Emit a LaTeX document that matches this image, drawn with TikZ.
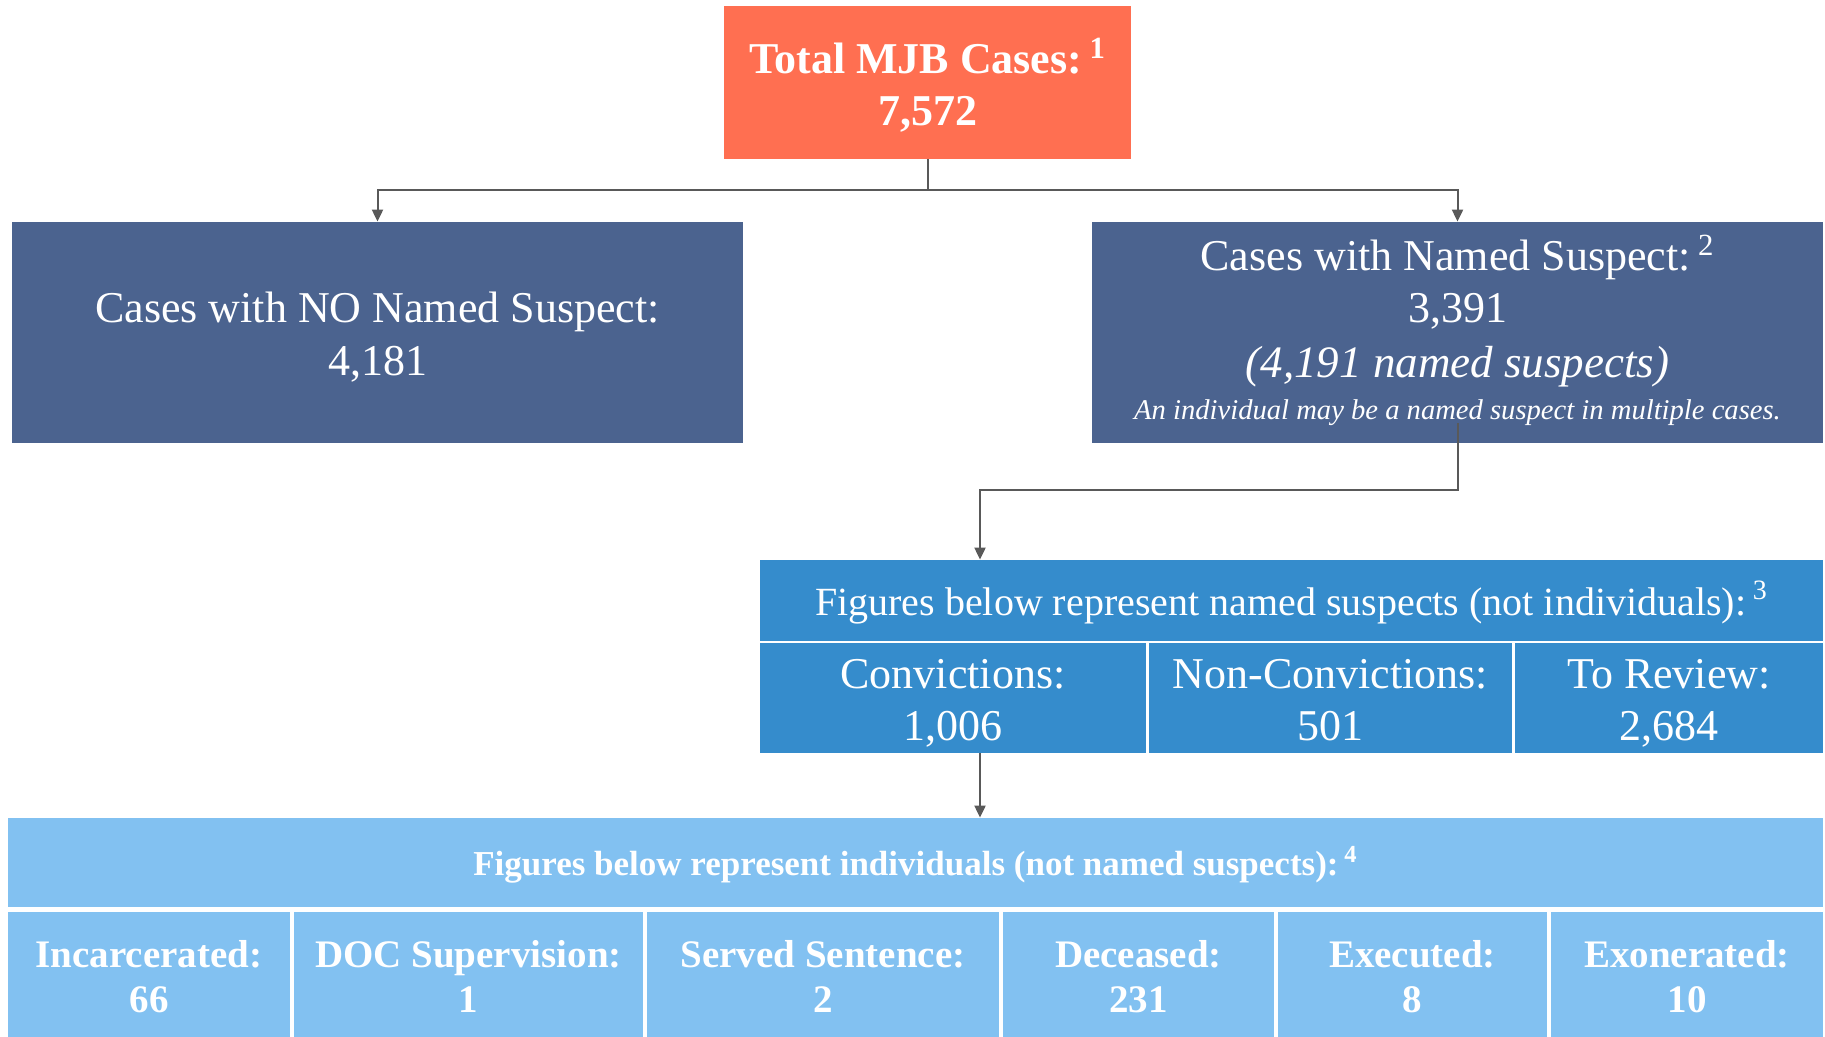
\documentclass[tikz,border=0pt]{standalone}
\usepackage{fontspec}
\setmainfont{Liberation Serif}
\usetikzlibrary{arrows.meta}
\definecolor{coral}{RGB}{255,111,81}
\definecolor{navy}{RGB}{75,99,143}
\definecolor{midblue}{RGB}{53,140,204}
\definecolor{lightblue}{RGB}{130,193,241}
\definecolor{conn}{RGB}{89,89,89}
\tikzset{
  box/.style={rectangle, inner sep=0pt},
  topbox/.style={box, fill=coral},
  navybox/.style={box, fill=navy},
  midbox/.style={box, fill=midblue},
  lightbox/.style={box, fill=lightblue},
  lbl/.style={inner sep=0pt, text=white, anchor=base},
  bigbold/.style={lbl, font=\fontsize{22}{26}\selectfont\bfseries},
  big/.style={lbl, font=\fontsize{22}{26}\selectfont},
  bigit/.style={lbl, font=\fontsize{22.5}{26}\selectfont\itshape},
  smallit/.style={lbl, font=\fontsize{14.3}{16}\selectfont\itshape},
  midhd/.style={lbl, font=\fontsize{20}{24}\selectfont},
  lighthd/.style={lbl, font=\fontsize{17.5}{21}\selectfont\bfseries},
  cellbold/.style={lbl, font=\fontsize{19.5}{23}\selectfont\bfseries},
  arr/.style={draw=conn, line width=1pt, -{Triangle[length=6pt,width=5.5pt]}},
}
\newcommand{\supnum}[1]{\,\textsuperscript{#1}}
\begin{document}
\begin{tikzpicture}[x=0.5pt,y=-0.5pt]
\useasboundingbox (0,0) rectangle (1825,1037);
% top
\node[topbox, minimum width=203.5pt, minimum height=76.5pt] (top) at (927.5,82.5) {};
\node[bigbold] (t1) at (927.5,74) {Total MJB Cases:\supnum{1}};
\node[bigbold] (t2) at (927.5,126) {7,572};
% second level
\node[navybox, minimum width=365.5pt, minimum height=110.5pt] (left) at (377.5,332.5) {};
\node[big] (l1) at (377.5,323) {Cases with NO Named Suspect:};
\node[big] (l2) at (377.5,376) {4,181};
\node[navybox, minimum width=365.5pt, minimum height=110.5pt] (right) at (1457.5,332.5) {};
\node[big] (rt1) at (1457.5,271) {Cases with Named Suspect:\supnum{2}};
\node[big] (rt2) at (1457.5,323) {3,391};
\node[bigit] (rt3) at (1457.5,378) {(4,191 named suspects)};
\node[smallit] (rt4) at (1457.5,420) {An individual may be a named suspect in multiple cases.};
% third level
\node[midbox, minimum width=531.5pt, minimum height=40.5pt] (midh) at (1291.5,600.5) {};
\node[midhd] (mh) at (1291.5,615) {Figures below represent named suspects (not individuals):\supnum{3}};
\node[midbox, minimum width=193pt, minimum height=55pt] (conv) at (953,698) {};
\node[midbox, minimum width=181.5pt, minimum height=55pt] (nonconv) at (1330.5,698) {};
\node[midbox, minimum width=154pt, minimum height=55pt] (review) at (1669,698) {};
\node[big] (c1) at (953,688) {Convictions:};
\node[big] (c2) at (953,740) {1,006};
\node[big] (n1) at (1330.5,688) {Non-Convictions:};
\node[big] (n2) at (1330.5,740) {501};
\node[big] (v1) at (1669,688) {To Review:};
\node[big] (v2) at (1669,740) {2,684};
% bottom level
\node[lightbox, minimum width=907.5pt, minimum height=44.5pt] (both) at (915.5,862.5) {};
\node[lighthd] (bh) at (915.5,875) {Figures below represent individuals (not named suspects):\supnum{4}};
\node[lightbox, minimum width=141pt, minimum height=62.5pt] (inc) at (149,974.5) {};
\node[lightbox, minimum width=174.5pt, minimum height=62.5pt] (doc) at (468.5,974.5) {};
\node[lightbox, minimum width=176pt, minimum height=62.5pt] (served) at (823,974.5) {};
\node[lightbox, minimum width=135.5pt, minimum height=62.5pt] (dec) at (1138.5,974.5) {};
\node[lightbox, minimum width=134.5pt, minimum height=62.5pt] (exe) at (1412.5,974.5) {};
\node[lightbox, minimum width=136pt, minimum height=62.5pt] (exo) at (1687,974.5) {};
\node[cellbold] (inc1) at (149,967) {Incarcerated:};
\node[cellbold] (inc2) at (149,1012) {66};
\node[cellbold] (doc1) at (468.5,967) {DOC Supervision:};
\node[cellbold] (doc2) at (468.5,1012) {1};
\node[cellbold] (ser1) at (823,967) {Served Sentence:};
\node[cellbold] (ser2) at (823,1012) {2};
\node[cellbold] (dec1) at (1138.5,967) {Deceased:};
\node[cellbold] (dec2) at (1138.5,1012) {231};
\node[cellbold] (exe1) at (1412.5,967) {Executed:};
\node[cellbold] (exe2) at (1412.5,1012) {8};
\node[cellbold] (exo1) at (1687,967) {Exonerated:};
\node[cellbold] (exo2) at (1687,1012) {10};
% connectors
\coordinate (j1) at (927.5,190);
\draw[draw=conn, line width=1pt] (top.south) -- (j1);
\draw[arr] (j1) -| (left.north);
\draw[arr] (j1) -| (right.north);
\coordinate (r1) at ([yshift=10pt]right.south);
\coordinate (j2) at (980,490);
\draw[arr] (r1) |- (j2) -- (j2 |- midh.north);
\draw[arr] (j2 |- conv.south) -- (j2 |- both.north);
\end{tikzpicture}
\end{document}
